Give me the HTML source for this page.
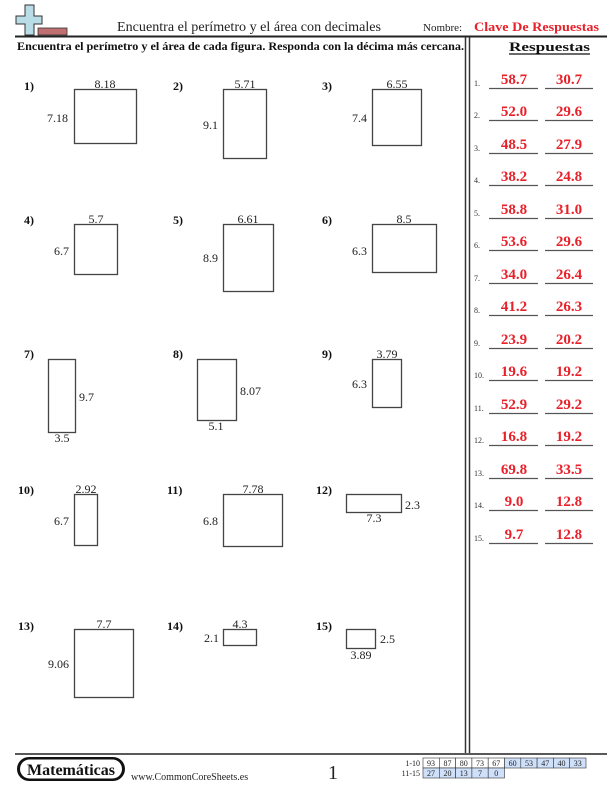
<!DOCTYPE html>
<html><head><meta charset="utf-8"><style>
body{margin:0;background:#fff}
svg{display:block}
text{font-family:"Liberation Serif",serif}
</style></head><body>
<svg width="612" height="792" viewBox="0 0 612 792" xmlns="http://www.w3.org/2000/svg">
<!-- header icon -->
<rect x="38" y="28" width="29" height="7" fill="#c07070" stroke="#333" stroke-width="0.8"/>
<path d="M25,5 h9 v11 h8 v8 h-8 v11 h-9 v-11 h-9 v-8 h9 z" fill="#b9dde6" stroke="#333" stroke-width="1"/>
<text x="117" y="31" font-size="14" textLength="264" lengthAdjust="spacingAndGlyphs" fill="#222">Encuentra el perímetro y el área con decimales</text>
<text x="423" y="31" font-size="11" fill="#222">Nombre:</text>
<text x="474" y="31" font-size="12.5" font-weight="bold" textLength="125" lengthAdjust="spacingAndGlyphs" fill="#e8202a">Clave De Respuestas</text>
<line x1="15" y1="36.5" x2="607" y2="36.5" stroke="#222" stroke-width="2"/>
<text x="17" y="50" font-size="11.5" font-weight="bold" textLength="447" lengthAdjust="spacingAndGlyphs" fill="#111">Encuentra el perímetro y el área de cada figura. Responda con la décima más cercana.</text>
<text x="509" y="51" font-size="13" font-weight="bold" textLength="81" lengthAdjust="spacingAndGlyphs" fill="#111">Respuestas</text>
<line x1="509" y1="54" x2="590" y2="54" stroke="#111" stroke-width="1.2"/>
<!-- double vertical -->
<line x1="465.5" y1="37" x2="465.5" y2="753" stroke="#333" stroke-width="1.5"/>
<line x1="469.5" y1="37" x2="469.5" y2="753" stroke="#333" stroke-width="1.5"/>
<!-- problems -->
<g font-size="12" font-weight="bold" fill="#111">
<text x="24" y="90">1)</text><text x="173" y="90">2)</text><text x="322" y="90">3)</text>
<text x="24" y="224">4)</text><text x="173" y="224">5)</text><text x="322" y="224">6)</text>
<text x="24" y="358">7)</text><text x="173" y="358">8)</text><text x="322" y="358">9)</text>
<text x="18" y="494">10)</text><text x="167" y="494">11)</text><text x="316" y="494">12)</text>
<text x="18" y="630">13)</text><text x="167" y="630">14)</text><text x="316" y="630">15)</text>
</g>
<g fill="#fff" stroke="#444" stroke-width="1.3">
<rect x="74.5" y="89.5" width="62" height="54"/>
<rect x="223.5" y="89.5" width="43" height="69"/>
<rect x="372.5" y="89.5" width="49" height="56"/>
<rect x="74.5" y="224.5" width="43" height="50"/>
<rect x="223.5" y="224.5" width="50" height="67"/>
<rect x="372.5" y="224.5" width="64" height="48"/>
<rect x="48.5" y="359.5" width="27" height="73"/>
<rect x="197.5" y="359.5" width="39" height="61"/>
<rect x="372.5" y="359.5" width="29" height="48"/>
<rect x="74.5" y="494.5" width="23" height="51"/>
<rect x="223.5" y="494.5" width="59" height="52"/>
<rect x="346.5" y="494.5" width="55" height="18"/>
<rect x="74.5" y="629.5" width="59" height="68"/>
<rect x="223.5" y="629.5" width="33" height="16"/>
<rect x="346.5" y="629.5" width="29" height="19"/>
</g>
<g font-size="12" fill="#222">
<text x="105" y="88" text-anchor="middle">8.18</text><text x="68" y="122" text-anchor="end">7.18</text>
<text x="245" y="88" text-anchor="middle">5.71</text><text x="218" y="129" text-anchor="end">9.1</text>
<text x="397" y="88" text-anchor="middle">6.55</text><text x="367" y="122" text-anchor="end">7.4</text>
<text x="96" y="223" text-anchor="middle">5.7</text><text x="69" y="255" text-anchor="end">6.7</text>
<text x="248" y="223" text-anchor="middle">6.61</text><text x="218" y="262" text-anchor="end">8.9</text>
<text x="404" y="223" text-anchor="middle">8.5</text><text x="367" y="255" text-anchor="end">6.3</text>
<text x="79" y="401">9.7</text><text x="62" y="442" text-anchor="middle">3.5</text>
<text x="240" y="395">8.07</text><text x="216" y="430" text-anchor="middle">5.1</text>
<text x="387" y="358" text-anchor="middle">3.79</text><text x="367" y="388" text-anchor="end">6.3</text>
<text x="86" y="493" text-anchor="middle">2.92</text><text x="69" y="525" text-anchor="end">6.7</text>
<text x="253" y="493" text-anchor="middle">7.78</text><text x="218" y="525" text-anchor="end">6.8</text>
<text x="405" y="509">2.3</text><text x="374" y="522" text-anchor="middle">7.3</text>
<text x="104" y="628" text-anchor="middle">7.7</text><text x="69" y="668" text-anchor="end">9.06</text>
<text x="240" y="628" text-anchor="middle">4.3</text><text x="219" y="642" text-anchor="end">2.1</text>
<text x="380" y="643">2.5</text><text x="361" y="659" text-anchor="middle">3.89</text>
</g>
<!-- answers -->
<g font-size="15" font-weight="bold" fill="#e8202a" text-anchor="middle">
<text x="514" y="84">58.7</text><text x="569" y="84">30.7</text>
<text x="514" y="116">52.0</text><text x="569" y="116">29.6</text>
<text x="514" y="149">48.5</text><text x="569" y="149">27.9</text>
<text x="514" y="181">38.2</text><text x="569" y="181">24.8</text>
<text x="514" y="214">58.8</text><text x="569" y="214">31.0</text>
<text x="514" y="246">53.6</text><text x="569" y="246">29.6</text>
<text x="514" y="279">34.0</text><text x="569" y="279">26.4</text>
<text x="514" y="311">41.2</text><text x="569" y="311">26.3</text>
<text x="514" y="344">23.9</text><text x="569" y="344">20.2</text>
<text x="514" y="376">19.6</text><text x="569" y="376">19.2</text>
<text x="514" y="409">52.9</text><text x="569" y="409">29.2</text>
<text x="514" y="441">16.8</text><text x="569" y="441">19.2</text>
<text x="514" y="474">69.8</text><text x="569" y="474">33.5</text>
<text x="514" y="506">9.0</text><text x="569" y="506">12.8</text>
<text x="514" y="539">9.7</text><text x="569" y="539">12.8</text>
</g>
<g font-size="8" fill="#333">
<text x="474" y="86">1.</text><text x="474" y="118">2.</text><text x="474" y="151">3.</text><text x="474" y="183">4.</text><text x="474" y="216">5.</text>
<text x="474" y="248">6.</text><text x="474" y="281">7.</text><text x="474" y="313">8.</text><text x="474" y="346">9.</text><text x="474" y="378">10.</text>
<text x="474" y="411">11.</text><text x="474" y="443">12.</text><text x="474" y="476">13.</text><text x="474" y="508">14.</text><text x="474" y="541">15.</text>
</g>
<g stroke="#555" stroke-width="1.3">
<path d="M489,88.5h49M545,88.5h48 M489,120.5h49M545,120.5h48 M489,153.5h49M545,153.5h48 M489,185.5h49M545,185.5h48 M489,218.5h49M545,218.5h48 M489,250.5h49M545,250.5h48 M489,283.5h49M545,283.5h48 M489,315.5h49M545,315.5h48 M489,348.5h49M545,348.5h48 M489,380.5h49M545,380.5h48 M489,413.5h49M545,413.5h48 M489,445.5h49M545,445.5h48 M489,478.5h49M545,478.5h48 M489,510.5h49M545,510.5h48 M489,543.5h49M545,543.5h48"/>
</g>
<!-- footer -->
<line x1="15" y1="754" x2="607" y2="754" stroke="#222" stroke-width="1.5"/>
<rect x="17" y="757" width="108" height="24" rx="12" fill="#111"/>
<rect x="20" y="759.5" width="102" height="19" rx="9.5" fill="#fff"/>
<text x="71" y="775" font-size="16" font-weight="bold" text-anchor="middle" fill="#111">Matemáticas</text>
<text x="131" y="780" font-size="10" fill="#222">www.CommonCoreSheets.es</text>
<text x="333" y="779" font-size="20" text-anchor="middle" fill="#222">1</text>
<text x="420" y="766" font-size="8" text-anchor="end" fill="#222">1-10</text>
<text x="420" y="776" font-size="8" text-anchor="end" fill="#222">11-15</text>
<g stroke="#333" stroke-width="0.6" font-size="8">
<rect x="423" y="758" width="16.3" height="10" fill="#fff"/><rect x="439.3" y="758" width="16.3" height="10" fill="#fff"/><rect x="455.6" y="758" width="16.3" height="10" fill="#fff"/><rect x="471.9" y="758" width="16.3" height="10" fill="#fff"/><rect x="488.2" y="758" width="16.3" height="10" fill="#fff"/>
<rect x="504.5" y="758" width="16.3" height="10" fill="#cfe0fb"/><rect x="520.8" y="758" width="16.3" height="10" fill="#cfe0fb"/><rect x="537.1" y="758" width="16.3" height="10" fill="#cfe0fb"/><rect x="553.4" y="758" width="16.3" height="10" fill="#cfe0fb"/><rect x="569.7" y="758" width="16.3" height="10" fill="#cfe0fb"/>
<rect x="423" y="768" width="16.3" height="10" fill="#cfe0fb"/><rect x="439.3" y="768" width="16.3" height="10" fill="#cfe0fb"/><rect x="455.6" y="768" width="16.3" height="10" fill="#cfe0fb"/><rect x="471.9" y="768" width="16.3" height="10" fill="#cfe0fb"/><rect x="488.2" y="768" width="16.3" height="10" fill="#cfe0fb"/>
</g>
<g font-size="8" fill="#222" text-anchor="middle">
<text x="431" y="766">93</text><text x="447.5" y="766">87</text><text x="463.8" y="766">80</text><text x="480" y="766">73</text><text x="496.3" y="766">67</text><text x="512.6" y="766">60</text><text x="529" y="766">53</text><text x="545.2" y="766">47</text><text x="561.5" y="766">40</text><text x="577.8" y="766">33</text>
<text x="431" y="776">27</text><text x="447.5" y="776">20</text><text x="463.8" y="776">13</text><text x="480" y="776">7</text><text x="496.3" y="776">0</text>
</g>
</svg>
</body></html>
